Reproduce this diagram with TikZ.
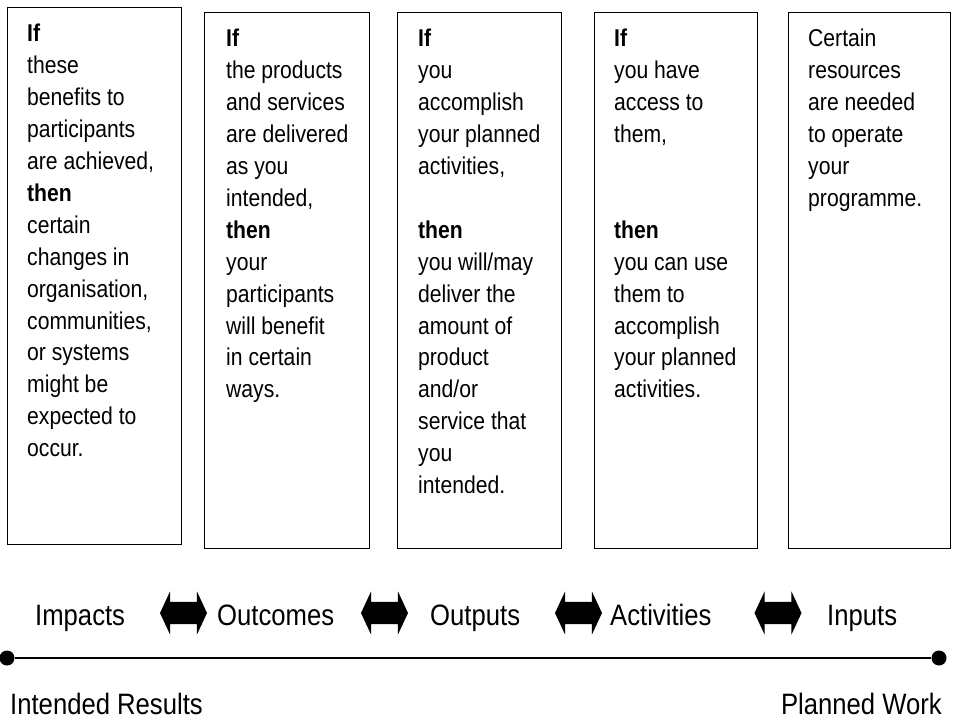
\documentclass[tikz,border=0pt]{standalone}
\usepackage{fontspec}
\setmainfont{Liberation Sans}[FakeStretch=0.87]
\usetikzlibrary{shapes.arrows}

\tikzset{
  panel/.style={draw=black, line width=1.4pt, anchor=north west, inner sep=0pt},
  panetext/.style={anchor=base west, inner sep=0pt},
  stage/.style={anchor=base west, inner sep=0pt, font=\fontsize{29.5}{32}\selectfont},
  endlabel/.style={inner sep=0pt, font=\fontsize{29.5}{32}\selectfont},
  link/.style={double arrow, fill=black, draw=none, inner sep=11pt,
    minimum height=47pt, double arrow head extend=10.5pt,
    double arrow tip angle=130},
  enddot/.style={circle, fill=black, inner sep=0pt, minimum size=15pt},
}

% text column of a panel: first baseline at the node's base
\newcommand{\panetxt}[1]{\parbox[t]{150pt}{\raggedright\fontsize{24.3}{31.9}\selectfont #1}}

\begin{document}
\begin{tikzpicture}[x=1pt, y=-1pt]
\useasboundingbox (0,0) rectangle (953,719);

% panels
\node[panel, minimum width=174pt, minimum height=537pt] (b1) at (7,7) {};
\node[panel, minimum width=165pt, minimum height=536pt] (b2) at (204,12) {};
\node[panel, minimum width=164pt, minimum height=536pt] (b3) at (397,12) {};
\node[panel, minimum width=163pt, minimum height=536pt] (b4) at (594,12) {};
\node[panel, minimum width=162pt, minimum height=536pt] (b5) at (788,12) {};

% panel texts
\node[panetext] (t1) at (27,42) {\panetxt{\textbf{If}\\ these\\ benefits to\\ participants\\ are achieved,\\ \textbf{then}\\ certain\\ changes in\\ organisation,\\ communities,\\ or systems\\ might be\\ expected to\\ occur.}};
\node[panetext] (t2) at (226,47) {\panetxt{\textbf{If}\\ the products\\ and services\\ are delivered\\ as you\\ intended,\\ \textbf{then}\\ your\\ participants\\ will benefit\\ in certain\\ ways.}};
\node[panetext] (t3) at (418,47) {\panetxt{\textbf{If}\\ you\\ accomplish\\ your planned\\ activities,\\ \mbox{}\\ \textbf{then}\\ you will/may\\ deliver the\\ amount of\\ product\\ and/or\\ service that\\ you\\ intended.}};
\node[panetext] (t4) at (614,47) {\panetxt{\textbf{If}\\ you have\\ access to\\ them,\\ \mbox{}\\ \mbox{}\\ \textbf{then}\\ you can use\\ them to\\ accomplish\\ your planned\\ activities.}};
\node[panetext] (t5) at (808,47) {\panetxt{Certain\\ resources\\ are needed\\ to operate\\ your\\ programme.}};

% stages
\node[stage] (s1) at (35,625) {Impacts};
\node[stage] (s2) at (217,625) {Outcomes};
\node[stage] (s3) at (430,625) {Outputs};
\node[stage] (s4) at (610,625) {Activities};
\node[stage] (s5) at (827,625) {Inputs};

% two-way block arrows between stages
\node[link] (a1) at (183.5,613) {};
\node[link] (a2) at (384.5,613) {};
\node[link] (a3) at (578.5,613) {};
\node[link] (a4) at (778,613) {};

% axis
\node[enddot] (dl) at (7,658) {};
\node[enddot] (dr) at (939,658) {};
\draw[line width=2.6pt] (dl) -- (dr);

\node[endlabel, anchor=base west] (lres) at (10,714) {Intended Results};
\node[endlabel, anchor=base east] (lwork) at (942,714) {Planned Work};
\end{tikzpicture}
\end{document}
